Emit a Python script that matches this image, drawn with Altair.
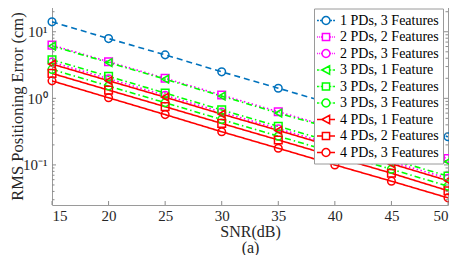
import altair as alt
import pandas as pd

snr = [15, 20, 25, 30, 35, 40, 45, 50]
names = ["1 PDs, 3 Features", "2 PDs, 2 Features", "2 PDs, 3 Features",
         "3 PDs, 1 Feature", "3 PDs, 2 Features", "3 PDs, 3 Features",
         "4 PDs, 1 Feature", "4 PDs, 2 Features", "4 PDs, 3 Features"]
rms_1pd_3f = [14.1, 7.9, 4.5, 2.5, 1.42, 0.80, 0.45, 0.265]
rms_2pd_2f = [6.3, 3.55, 2.0, 1.12, 0.63, 0.355, 0.20, 0.125]
rms_2pd_3f = [3.5, 1.97, 1.11, 0.62, 0.35, 0.197, 0.111, 0.063]
rms_3pd_1f = [6.1, 3.45, 1.94, 1.08, 0.60, 0.345, 0.195, 0.112]
rms_3pd_2f = [3.8, 2.14, 1.2, 0.67, 0.38, 0.215, 0.12, 0.068]
rms_3pd_3f = [2.72, 1.53, 0.86, 0.48, 0.27, 0.153, 0.086, 0.048]
rms_4pd_1f = [3.27, 1.84, 1.04, 0.58, 0.33, 0.185, 0.104, 0.058]
rms_4pd_2f = [2.37, 1.33, 0.75, 0.42, 0.237, 0.133, 0.075, 0.041]
rms_4pd_3f = [1.83, 1.02, 0.57, 0.315, 0.178, 0.10, 0.057, 0.032]
series_values = [rms_1pd_3f, rms_2pd_2f, rms_2pd_3f, rms_3pd_1f, rms_3pd_2f,
                 rms_3pd_3f, rms_4pd_1f, rms_4pd_2f, rms_4pd_3f]

colors = ["#0072BD", "#FF00FF", "#FF00FF", "#00FF00", "#00FF00", "#00FF00",
          "#FF0000", "#FF0000", "#FF0000"]
dashes = [[6, 4], [1.5, 2.5], [1.5, 2.5], [6, 3, 1.5, 3], [6, 3, 1.5, 3],
          [6, 3, 1.5, 3], [1, 0], [1, 0], [1, 0]]
markers = ["circle", "square", "circle", "triangle-left", "square", "circle",
           "triangle-left", "square", "circle"]

x_ticks = [15, 20, 25, 30, 35, 40, 45, 50]
y_major = [0.1, 1, 10]
y_minor = [0.03, 0.04, 0.05, 0.06, 0.07, 0.08, 0.09,
           0.2, 0.3, 0.4, 0.5, 0.6, 0.7, 0.8, 0.9,
           2, 3, 4, 5, 6, 7, 8, 9, 20, 30]

# legend symbols (line style + marker) as custom paths; 1 unit = 7.5 px
seg = {
    "dash": "M-1.2,0H-0.95M-0.8,0H-0.55M0.55,0H0.8M0.95,0H1.2",
    "dot": "M-1.2,0H-1.08M-0.94,0H-0.82M-0.68,0H-0.56M0.56,0H0.68M0.82,0H0.94M1.08,0H1.2",
    "dashdot": "M-1.2,0H-0.95M-0.84,0H-0.77M-0.66,0H-0.55M0.55,0H0.66M0.77,0H0.84M0.95,0H1.2",
    "solid": "M-1.2,0H-0.55M0.55,0H1.2",
}
mk = {
    "circle": "M-0.53,0A0.53,0.53,0,1,1,0.53,0A0.53,0.53,0,1,1,-0.53,0Z",
    "square": "M-0.48,-0.48H0.48V0.48H-0.48Z",
    "triangle-left": "M-0.55,0L0.48,-0.55L0.48,0.55Z",
}
line_kind = ["dash", "dot", "dot", "dashdot", "dashdot", "dashdot", "solid", "solid", "solid"]
legend_paths = [seg[k] + mk[m] for k, m in zip(line_kind, markers)]
sids = ["s%d" % i for i in range(len(names))]

rows = []
for i, (n, vals) in enumerate(zip(names, series_values)):
    for s, v in zip(snr, vals):
        rows.append({"series": n, "sid": sids[i], "snr": s, "rms": v,
                     "marker": markers[i], "order": i})
df = pd.DataFrame(rows)

W, H = 396, 205
FONT = "Liberation Serif"
TXT = "#262626"
FRAME = "#9a9a9a"

xscale = alt.Scale(domain=[15, 50], nice=False, zero=False)
yscale = alt.Scale(type="log", domain=[0.025, 30], nice=False)
stroke_scale = alt.Scale(domain=sids, range=colors)

x_enc = alt.X("snr:Q", scale=xscale,
              axis=alt.Axis(values=x_ticks, format="d", ticks=False, domain=False, grid=False,
                            labelFont=FONT, labelFontSize=15, labelColor=TXT, labelPadding=3,
                            title=["SNR(dB)", "(a)"], titleFont=FONT, titleFontSize=16,
                            titleFontWeight="normal", titleColor=TXT, titlePadding=0,
                            titleLineHeight=16))
y_enc = alt.Y("rms:Q", scale=yscale,
              axis=alt.Axis(values=y_major, ticks=False, domain=False, grid=False,
                            labelExpr="datum.value == 10 ? '10¹' : datum.value == 1 ? '10⁰' : '10⁻¹'",
                            labelFont=FONT, labelFontSize=15, labelColor=TXT, labelPadding=5,
                            title="RMS Positioning Error (cm)", titleFont=FONT, titleFontSize=16.5,
                            titleFontWeight="normal", titleColor=TXT, titleX=-35, titleY=106,
                            titleBaseline="middle"))

leg = dict(title=None, orient="none", legendX=262, legendY=8.5,
           padding=3.5, strokeColor=FRAME, fillColor="white",
           labelFont=FONT, labelFontSize=14, labelColor="black", labelLimit=300,
           symbolSize=225, symbolStrokeWidth=1.5, rowPadding=0.5, labelOffset=5.5,
           cornerRadius=0, symbolOpacity=1)

base = alt.Chart(df)

legend_layer = base.transform_filter("datum.snr > 1000").mark_point(
    filled=False, strokeWidth=1.5, opacity=1
).encode(
    x=x_enc, y=y_enc,
    color=alt.Color("series:N", scale=alt.Scale(domain=names, range=colors),
                    legend=alt.Legend(**leg)),
    shape=alt.Shape("series:N", scale=alt.Scale(domain=names, range=legend_paths),
                    legend=alt.Legend(**leg)),
)

lines = base.mark_line(strokeWidth=1.6, clip=True).encode(
    x="snr:Q", y="rms:Q",
    stroke=alt.Stroke("sid:N", scale=stroke_scale, legend=None),
    strokeDash=alt.StrokeDash("sid:N", scale=alt.Scale(domain=sids, range=dashes), legend=None),
    order="order:Q",
)

point_layers = []
for shp in ["circle", "square", "triangle-left"]:
    point_layers.append(
        base.transform_filter(alt.datum.marker == shp)
        .mark_point(shape=shp, filled=False, size=58, strokeWidth=1.5, opacity=1)
        .encode(x="snr:Q", y="rms:Q",
                stroke=alt.Stroke("sid:N", scale=stroke_scale, legend=None))
    )

xt = pd.DataFrame({"snr": x_ticks})
ymaj = pd.DataFrame({"rms": y_major})
ymin = pd.DataFrame({"rms": y_minor})
tc = "#8c8c8c"
ticks = [
    alt.Chart(xt).mark_rule(color=tc, strokeWidth=1).encode(x="snr:Q", y=alt.value(H), y2=alt.value(H - 4)),
    alt.Chart(xt).mark_rule(color=tc, strokeWidth=1).encode(x="snr:Q", y=alt.value(0), y2=alt.value(4)),
    alt.Chart(ymaj).mark_rule(color=tc, strokeWidth=1).encode(y="rms:Q", x=alt.value(0), x2=alt.value(4)),
    alt.Chart(ymaj).mark_rule(color=tc, strokeWidth=1).encode(y="rms:Q", x=alt.value(W), x2=alt.value(W - 4)),
    alt.Chart(ymin).mark_rule(color=tc, strokeWidth=1).encode(y="rms:Q", x=alt.value(0), x2=alt.value(2.5)),
    alt.Chart(ymin).mark_rule(color=tc, strokeWidth=1).encode(y="rms:Q", x=alt.value(W), x2=alt.value(W - 2.5)),
]

chart = alt.layer(legend_layer, lines, *point_layers, *ticks).resolve_scale(
    x="shared", y="shared"
).properties(
    width=W, height=H,
    background="white",
    autosize=alt.AutoSizeParams(type="none"),
    padding={"left": 44, "top": -8, "right": 1, "bottom": 50},
).configure_view(
    stroke=FRAME, strokeWidth=1
)

chart.save("out.html", embed_options={"renderer": "svg", "actions": False})
